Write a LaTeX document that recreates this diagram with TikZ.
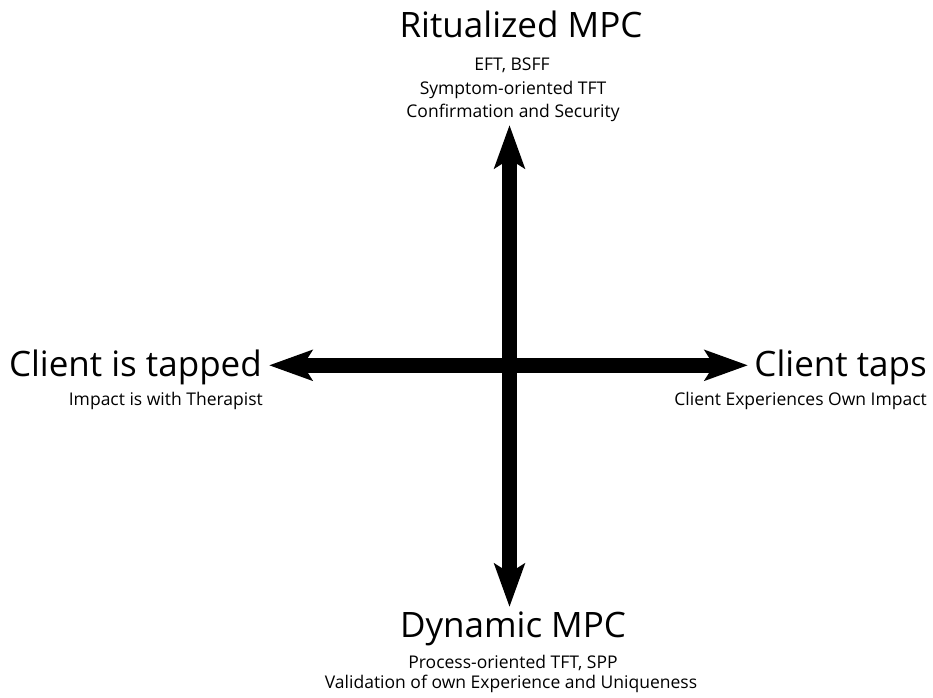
\documentclass[tikz,border=0pt]{standalone}
\usepackage{fontspec}
\setmainfont{Open Sans}
\usetikzlibrary{arrows.meta}
\begin{document}
\begin{tikzpicture}[x=1pt,y=-1pt,
  big/.style={font=\fontsize{35}{38}\selectfont, inner sep=0pt, anchor=base},
  small/.style={font=\fontsize{17.5}{22}\selectfont, inner sep=0pt, anchor=base},
  axis/.style={line width=15.5pt, draw=black,
    {Stealth[length=43pt,width=30pt,inset=9pt]}-{Stealth[length=43pt,width=30pt,inset=9pt]}}]
\useasboundingbox (0,0) rectangle (933,697);
% labels
\node[big] (top) at (521,37) {Ritualized MPC};
\node[small] (top1) at (512,70.5) {EFT, BSFF};
\node[small] (top2) at (513,94) {Symptom-oriented TFT};
\node[small] (top3) at (513,117) {Confirmation and Security};
\node[big, anchor=base east] (left) at (262,376) {Client is tapped};
\node[small, anchor=base east] (left1) at (263,405) {Impact is with Therapist};
\node[big, anchor=base east] (right) at (927,376) {Client taps};
\node[small, anchor=base east] (right1) at (927,405) {Client Experiences Own Impact};
\node[big] (bot) at (513,637) {Dynamic MPC};
\node[small] (bot1) at (513,668) {Process-oriented TFT, SPP};
\node[small] (bot2) at (511,688) {Validation of own Experience and Uniqueness};
% axes
\coordinate (n) at (509.5,125);
\coordinate (s) at (509.5,607);
\coordinate (w) at (269,365.3);
\coordinate (e) at (748,365.3);
\draw[axis] (w) -- (e);
\draw[axis] (n) -- (s);
\end{tikzpicture}
\end{document}
